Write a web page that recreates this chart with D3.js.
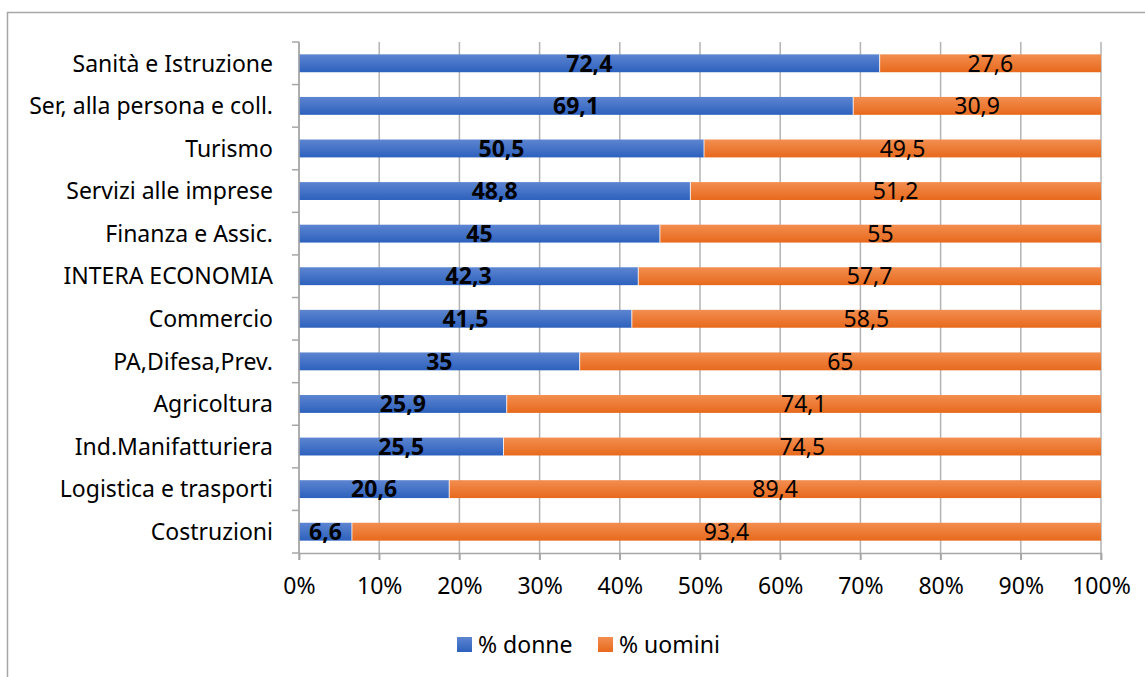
<!DOCTYPE html>
<html>
<head>
<meta charset="utf-8">
<script src="https://cdn.jsdelivr.net/npm/d3@7"></script>
<style>
  body { margin: 0; background: #fff; }
  svg { display: block; font-family: "Noto Sans", "Open Sans", sans-serif; }
</style>
</head>
<body>
<svg id="chart" width="1145" height="677"></svg>
<script>
// categories, top to bottom as in the picture
const categories = [
  "Sanità e Istruzione",
  "Ser, alla persona e coll.",
  "Turismo",
  "Servizi alle imprese",
  "Finanza e Assic.",
  "INTERA ECONOMIA",
  "Commercio",
  "PA,Difesa,Prev.",
  "Agricoltura",
  "Ind.Manifatturiera",
  "Logistica e trasporti",
  "Costruzioni"
];
const donne = [72.4, 69.1, 50.5, 48.8, 45, 42.3, 41.5, 35, 25.9, 25.5, 20.6, 6.6];
const uomini = [27.6, 30.9, 49.5, 51.2, 55, 57.7, 58.5, 65, 74.1, 74.5, 89.4, 93.4];
const seriesNames = ["% donne", "% uomini"];
const xTicks = [0, 0.1, 0.2, 0.3, 0.4, 0.5, 0.6, 0.7, 0.8, 0.9, 1];

const margin = { top: 42, left: 299, right: 44, bottom: 124 };
const W = 1145, H = 677;
const width = W - margin.left - margin.right;   // ~802
const height = H - margin.top - margin.bottom;  // ~511
const FONT = 23;

const svg = d3.select("#chart");

// outer chart frame (only top + left visible in the reference)
svg.append("rect")
  .attr("x", 7.5).attr("y", 12.5)
  .attr("width", 1200).attr("height", 800)
  .attr("fill", "none")
  .attr("stroke", "#a6a6a6")
  .attr("stroke-width", 1.5);

// gradients like the office bar style
const defs = svg.append("defs");
function grad(id, top, bottom) {
  const g = defs.append("linearGradient").attr("id", id)
    .attr("x1", 0).attr("y1", 0).attr("x2", 0).attr("y2", 1);
  g.append("stop").attr("offset", "0%").attr("stop-color", top);
  g.append("stop").attr("offset", "100%").attr("stop-color", bottom);
}
grad("gBlue", "#5d85d1", "#2d61bd");
grad("gOrange", "#f38e50", "#e7691c");
const fills = ["url(#gBlue)", "url(#gOrange)"];

const g = svg.append("g").attr("transform", `translate(${margin.left},${margin.top})`);

const x = d3.scaleLinear().domain([0, 1]).range([0, width]);
const y = d3.scaleBand().domain(categories).range([0, height]).paddingInner(0.58).paddingOuter(0.29);

// vertical gridlines
g.append("g")
  .selectAll("line")
  .data(xTicks)
  .join("line")
  .attr("x1", d => x(d)).attr("x2", d => x(d))
  .attr("y1", 0).attr("y2", height + 7)
  .attr("stroke", "#b3b3b3")
  .attr("stroke-width", 1.5);

// stacked (normalized) data
const rows = categories.map((c, i) => {
  const tot = donne[i] + uomini[i];
  return { cat: c, d: donne[i], u: uomini[i], p0: donne[i] / tot };
});

const fmt = v => String(v).replace(".", ",");

// segments
const bars = g.append("g");
bars.selectAll("rect.donne")
  .data(rows)
  .join("rect")
  .attr("class", "donne")
  .attr("x", x(0))
  .attr("y", d => y(d.cat))
  .attr("width", d => x(d.p0) - x(0))
  .attr("height", y.bandwidth())
  .attr("fill", fills[0]);

bars.selectAll("rect.uomini")
  .data(rows)
  .join("rect")
  .attr("class", "uomini")
  .attr("x", d => x(d.p0))
  .attr("y", d => y(d.cat))
  .attr("width", d => x(1) - x(d.p0))
  .attr("height", y.bandwidth())
  .attr("fill", fills[1]);

// thin white separator between segments
bars.selectAll("line.sep")
  .data(rows)
  .join("line")
  .attr("x1", d => x(d.p0)).attr("x2", d => x(d.p0))
  .attr("y1", d => y(d.cat)).attr("y2", d => y(d.cat) + y.bandwidth())
  .attr("stroke", "#fff").attr("stroke-width", 0.8);

// data labels
const lab = g.append("g").attr("font-size", FONT).attr("fill", "#000");
lab.selectAll("text.ld")
  .data(rows)
  .join("text")
  .attr("class", "ld")
  .attr("x", d => (x(0) + x(d.p0)) / 2)
  .attr("y", d => y(d.cat) + y.bandwidth() / 2)
  .attr("dy", "0.36em")
  .attr("text-anchor", "middle")
  .attr("font-weight", "bold")
  .text(d => fmt(d.d));

lab.selectAll("text.lu")
  .data(rows)
  .join("text")
  .attr("class", "lu")
  .attr("x", d => (x(d.p0) + x(1)) / 2)
  .attr("y", d => y(d.cat) + y.bandwidth() / 2)
  .attr("dy", "0.36em")
  .attr("text-anchor", "middle")
  .text(d => fmt(d.u));

// y axis: line + ticks at band boundaries
const step = y.step();
const y0 = y(categories[0]) - step * y.paddingOuter();
const yAxis = g.append("g");
yAxis.append("line")
  .attr("x1", 0).attr("x2", 0).attr("y1", 0).attr("y2", height)
  .attr("stroke", "#a6a6a6").attr("stroke-width", 1.5);
yAxis.selectAll("line.tk")
  .data(d3.range(categories.length + 1))
  .join("line")
  .attr("class", "tk")
  .attr("x1", -7).attr("x2", 0)
  .attr("y1", i => y0 + i * step)
  .attr("y2", i => y0 + i * step)
  .attr("stroke", "#a6a6a6").attr("stroke-width", 1.5);
yAxis.selectAll("text")
  .data(categories)
  .join("text")
  .attr("x", -26)
  .attr("y", d => y(d) + y.bandwidth() / 2)
  .attr("dy", "0.36em")
  .attr("text-anchor", "end")
  .attr("font-size", FONT)
  .attr("fill", "#000")
  .text(d => d);

// x axis
const xAxis = g.append("g").attr("transform", `translate(0,${height})`)
  .call(d3.axisBottom(x).tickValues(xTicks).tickFormat(d3.format(".0%")).tickSize(7).tickPadding(18));
xAxis.select(".domain").attr("stroke", "#a6a6a6").attr("stroke-width", 1.5);
xAxis.selectAll(".tick line").attr("stroke", "#a6a6a6").attr("stroke-width", 1.5);
xAxis.selectAll(".tick text")
  .attr("font-size", FONT)
  .attr("font-family", "Noto Sans, sans-serif")
  .attr("fill", "#000");

// legend
const legend = svg.append("g").attr("transform", "translate(457,637)");
const legX = [0, 141];
const items = legend.selectAll("g")
  .data(seriesNames)
  .join("g")
  .attr("transform", (d, i) => `translate(${legX[i]},0)`);
items.append("rect")
  .attr("width", 15).attr("height", 15)
  .attr("fill", (d, i) => fills[i]);
items.append("text")
  .attr("x", 21).attr("y", 7.5).attr("dy", "0.36em")
  .attr("font-size", FONT)
  .attr("fill", "#000")
  .text(d => d);
</script>
</body>
</html>
